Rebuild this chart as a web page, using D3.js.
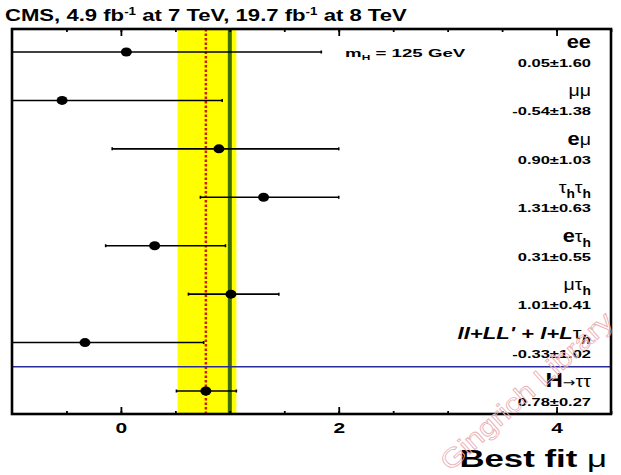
<!DOCTYPE html>
<html>
<head>
<meta charset="utf-8">
<script src="https://cdn.jsdelivr.net/npm/d3@7"></script>
<style>
  body { margin: 0; background: #fff; }
  svg { display: block; }
</style>
</head>
<body>
<svg id="chart" width="621" height="475"></svg>
<script>
// channels, best fit signal strength and (asymmetric) errors
const channels = ["ee", "μμ", "eμ", "τ_hτ_h", "eτ_h", "μτ_h", "ll+LL' + l+Lτ_h", "H→ττ"];
const bestFit = [0.05, -0.54, 0.90, 1.31, 0.31, 1.01, -0.33, 0.78];
const errDown = [1.60, 1.38, 0.98, 0.58, 0.45, 0.39, 1.02, 0.27];
const errUp = [1.79, 1.47, 1.10, 0.69, 0.65, 0.44, 1.09, 0.28];
const valueLabels = ["0.05±1.60", "-0.54±1.38", "0.90±1.03", "1.31±0.63", "0.31±0.55", "1.01±0.41", "-0.33±1.02", "0.78±0.27"];

const combined = 0.78;
const combDown = 0.26;
const combUp = 0.28;
const smValue = 1;

const xDomain = [-1, 4.5];
const majorTicks = [0, 2, 4];
const minorTicks = d3.range(-0.5, 4.51, 0.5);

const FONT = "Liberation Sans, Arial, Helvetica, sans-serif";
const pLeft = 12, pRight = 611, pTop = 29, pBottom = 414;

const svg = d3.select("#chart");

const x = d3.scaleLinear().domain(xDomain).range([pLeft, pRight]);
const y = d3.scaleLinear().domain([0, channels.length - 1]).range([52, 391]);

// clip for the plot area
svg.append("defs").append("clipPath").attr("id", "plotclip")
  .append("rect").attr("x", pLeft).attr("y", pTop).attr("width", pRight - pLeft).attr("height", pBottom - pTop);

const plot = svg.append("g").attr("clip-path", "url(#plotclip)");

// combined 1 sigma band
plot.append("rect")
  .attr("x", x(combined - combDown))
  .attr("width", x(combined + combUp) - x(combined - combDown))
  .attr("y", pTop).attr("height", pBottom - pTop)
  .attr("fill", "#ffff00");

// SM expectation
plot.append("line")
  .attr("x1", x(smValue)).attr("x2", x(smValue))
  .attr("y1", pTop).attr("y2", pBottom)
  .attr("stroke", "#3f6d05").attr("stroke-width", 4);

// combined best fit
plot.append("line")
  .attr("x1", x(combined)).attr("x2", x(combined))
  .attr("y1", pTop).attr("y2", pBottom)
  .attr("stroke", "#d01c00").attr("stroke-width", 2.5)
  .attr("stroke-dasharray", "2.5,2");

// separator between channels and combination
plot.append("line")
  .attr("x1", pLeft).attr("x2", pRight)
  .attr("y1", y(channels.length - 1.5)).attr("y2", y(channels.length - 1.5))
  .attr("stroke", "#2b2ba0").attr("stroke-width", 1.5);

// error bars
const rows = plot.selectAll("g.row").data(bestFit).enter().append("g").attr("class", "row");

rows.append("line")
  .attr("x1", (d, i) => x(d - errDown[i]))
  .attr("x2", (d, i) => x(d + errUp[i]))
  .attr("y1", (d, i) => y(i)).attr("y2", (d, i) => y(i))
  .attr("stroke", "#000").attr("stroke-width", 1.6);

rows.selectAll("line.cap")
  .data((d, i) => [{ v: d - errDown[i], i: i }, { v: d + errUp[i], i: i }])
  .enter().append("line").attr("class", "cap")
  .attr("x1", c => x(c.v)).attr("x2", c => x(c.v))
  .attr("y1", c => y(c.i) - 1.5).attr("y2", c => y(c.i) + 1.5)
  .attr("stroke", "#000").attr("stroke-width", 1.6);

rows.append("ellipse")
  .attr("cx", d => x(d)).attr("cy", (d, i) => y(i))
  .attr("rx", 5.5).attr("ry", 4.5)
  .attr("fill", "#000");

// axes (ticks inside, top and bottom)
const gBottom = svg.append("g").attr("transform", `translate(0,${pBottom})`);
gBottom.call(d3.axisBottom(x).tickValues(minorTicks).tickSize(-3).tickFormat(""));
const gBottomMajor = svg.append("g").attr("transform", `translate(0,${pBottom})`);
gBottomMajor.call(d3.axisBottom(x).tickValues(majorTicks).tickSize(-7).tickFormat(d3.format("d")));

const gTop = svg.append("g").attr("transform", `translate(0,${pTop})`);
gTop.call(d3.axisTop(x).tickValues(minorTicks).tickSize(-3).tickFormat(""));
const gTopMajor = svg.append("g").attr("transform", `translate(0,${pTop})`);
gTopMajor.call(d3.axisTop(x).tickValues(majorTicks).tickSize(-7).tickFormat(""));

svg.selectAll(".domain").remove();
svg.selectAll(".tick text").filter(function () { return this.textContent === ""; }).remove();
svg.selectAll(".tick line").attr("stroke", "#000").attr("stroke-width", 1.8);

gBottomMajor.selectAll(".tick text")
  .attr("y", 19).attr("dy", 0)
  .attr("transform", "scale(1.4,1)")
  .attr("fill", "#000")
  .attr("font-family", FONT)
  .attr("font-size", 15).attr("font-weight", "bold");

// frame
svg.append("rect")
  .attr("x", pLeft).attr("y", pTop)
  .attr("width", pRight - pLeft).attr("height", pBottom - pTop)
  .attr("fill", "none").attr("stroke", "#000").attr("stroke-width", 2.6);

// helper for horizontally stretched text
function stretched(px, py, sx, anchor) {
  return svg.append("g").attr("transform", `translate(${px},${py}) scale(${sx},1)`)
    .append("text").attr("text-anchor", anchor).attr("fill", "#000")
    .attr("font-family", FONT);
}

// channel labels: greek letters in regular weight, "_h" as subscript
const greek = /[μτ→]/;
channels.forEach((name, i) => {
  const italic = name.startsWith("ll");
  const big = name.startsWith("H");
  const t = stretched(591, y(i) - 4, italic ? 1.3 : 1.15, "end")
    .attr("font-size", italic ? 17 : (big ? 21 : 19))
    .attr("font-weight", "bold")
    .attr("font-style", italic ? "italic" : "normal");
  let shift = 0;
  let k = 0;
  while (k < name.length) {
    const ch = name[k];
    let span;
    if (ch === "_") {
      span = t.append("tspan").attr("font-size", 12).text(name[k + 1]);
      span.attr("dy", 5 + shift);
      shift = -5;
      k += 2;
      continue;
    } else if (ch === "→") {
      span = t.append("tspan").attr("font-weight", "normal").attr("font-style", "normal")
        .attr("font-family", "DejaVu Sans, sans-serif").attr("font-size", 13).text(ch);
    } else if (greek.test(ch)) {
      span = t.append("tspan").attr("font-weight", "normal").attr("font-style", "normal")
        .attr("font-size", 17).text(ch);
    } else {
      span = t.append("tspan").text(ch);
    }
    if (shift) span.attr("dy", shift);
    shift = 0;
    k += 1;
  }
  stretched(591, y(i) + 15, 1.5, "end")
    .attr("font-size", 11).attr("font-weight", "bold")
    .text(valueLabels[i]);
});

// title
stretched(5, 21, 1.34, "start")
  .attr("font-size", 16.5).attr("font-weight", "bold")
  .call(t => {
    t.append("tspan").text("CMS, 4.9 fb");
    t.append("tspan").attr("dy", -6).attr("font-size", 10).text("-1");
    t.append("tspan").attr("dy", 6).text(" at 7 TeV, 19.7 fb");
    t.append("tspan").attr("dy", -6).attr("font-size", 10).text("-1");
    t.append("tspan").attr("dy", 6).text(" at 8 TeV");
  });

// mass label
stretched(345, 57, 1.7, "start")
  .attr("font-size", 11).attr("font-weight", "bold")
  .call(t => {
    t.append("tspan").text("m");
    t.append("tspan").attr("dy", 3).attr("font-size", 7).text("H");
    t.append("tspan").attr("dy", -3).text(" = 125 GeV");
  });

// x axis title
stretched(607, 467, 1.45, "end")
  .attr("font-size", 24).attr("font-weight", "bold")
  .call(t => {
    t.append("tspan").text("Best fit ");
    t.append("tspan").attr("font-weight", "normal").text("μ");
  });

// watermark
svg.append("text")
  .attr("transform", "translate(450,472) rotate(-42)")
  .attr("textLength", 222).attr("lengthAdjust", "spacingAndGlyphs")
  .attr("font-family", FONT)
  .attr("fill", "none").attr("stroke", "#eab0b6").attr("stroke-width", 0.8)
  .attr("font-size", 26)
  .text("Gingrich Library");
</script>
</body>
</html>
